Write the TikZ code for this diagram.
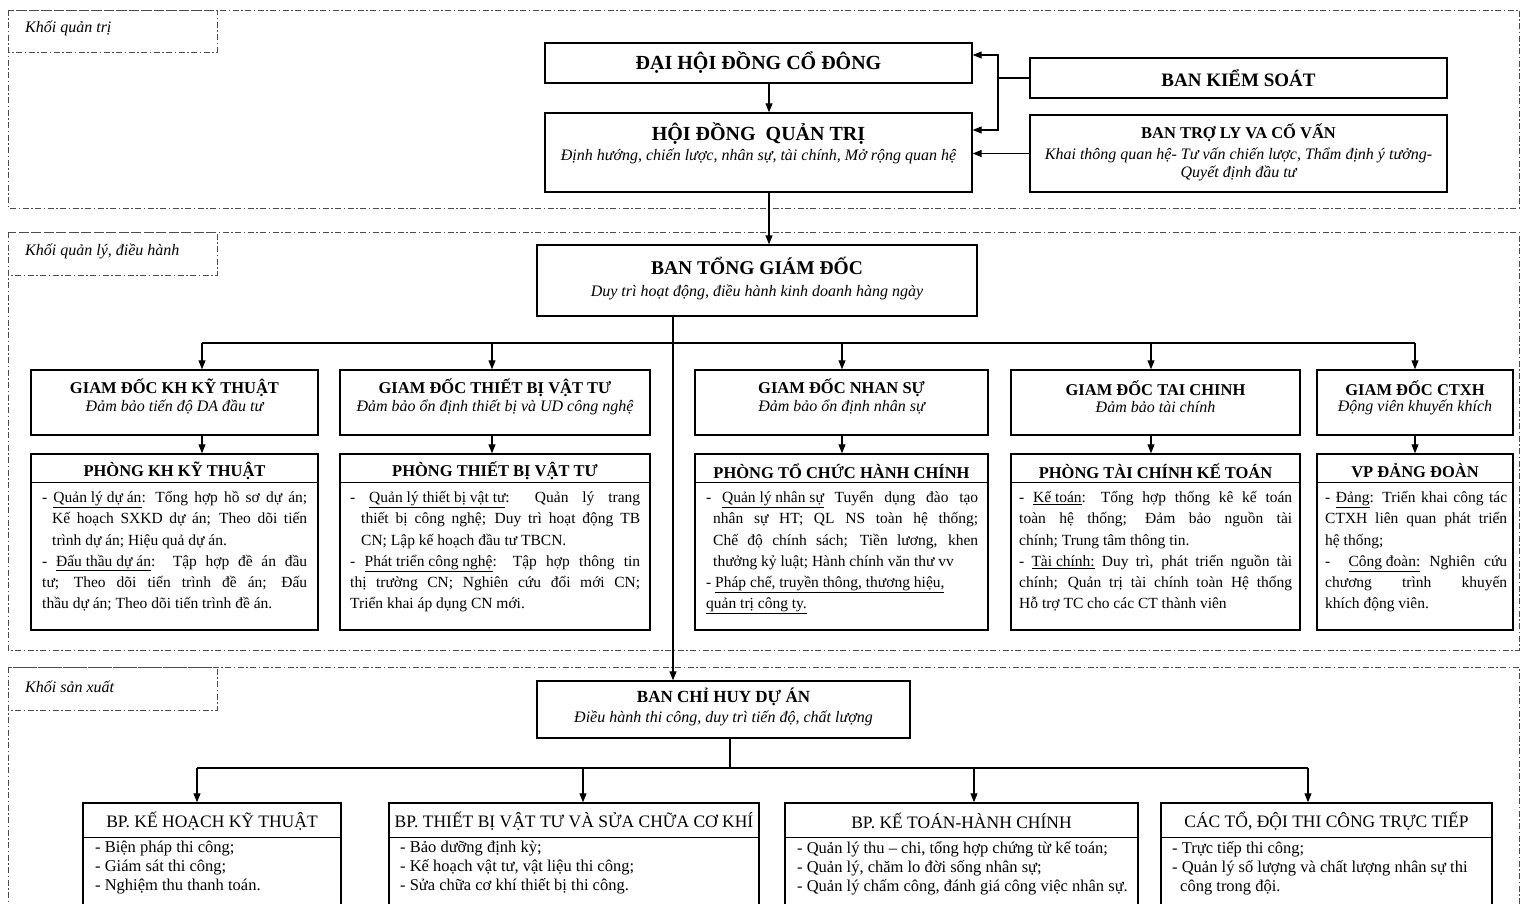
\documentclass[tikz,border=0pt]{standalone}
\usepackage{fontspec}
\setmainfont{Liberation Serif}
\usetikzlibrary{arrows.meta}

\tikzset{
  zone/.style={draw=black!70, line width=0.9pt, dash pattern=on 6pt off 2.5pt on 1.5pt off 2.5pt},
  zonetag/.style={anchor=west, inner sep=0pt, font=\fontsize{16}{18}\selectfont\itshape},
  box/.style={draw, line width=1.4pt, inner sep=0pt},
  head/.style={inner sep=0pt, font=\fontsize{16.5}{19}\selectfont\bfseries},
  bphead/.style={inner sep=0pt, font=\fontsize{17.5}{20}\selectfont},
  subhead/.style={inner sep=0pt, align=center, font=\fontsize{16}{18}\selectfont\itshape},
  duty/.style={anchor=north west, inner sep=0pt, align=justify, font=\fontsize{15.5}{21.3}\selectfont},
  task/.style={anchor=north west, inner sep=0pt, align=left, font=\fontsize{16.5}{19}\selectfont},
  link/.style={line width=1.1pt, -{Triangle[length=9pt,width=7pt]}},
  wire/.style={line width=1.1pt},
}

\begin{document}
\begin{tikzpicture}[x=1pt,y=-1pt]
\useasboundingbox (0,0) rectangle (1523,904);
\clip (0,0) rectangle (1523,904);

% Khoi quan tri
\draw[zone] (8,10) rectangle (1519,208);
\draw[zone] (8,10) rectangle (217,52);
\node[zonetag] (tag1) at (25,28) {Khối quản trị};

\node[box, minimum width=427pt, minimum height=40pt, font=\fontsize{20}{22}\selectfont\bfseries] (dhdcd) at (758.5,63) {ĐẠI HỘI ĐỒNG CỔ ĐÔNG};
\node[box, minimum width=427pt, minimum height=79pt] (hdqt) at (758.5,152.5) {};
\node[head, font=\fontsize{20}{22}\selectfont\bfseries] (hdqt-t) at (758.5,134) {HỘI ĐỒNG\ \ QUẢN TRỊ};
\node[subhead] (hdqt-s) at (758.5,156) {Định hướng, chiến lược, nhân sự, tài chính, Mở rộng quan hệ};
\node[box, minimum width=417pt, minimum height=40pt, font=\fontsize{19}{22}\selectfont\bfseries] (bks) at (1238.5,78) {BAN KIỂM SOÁT};
\node[box, minimum width=417pt, minimum height=77pt] (btl) at (1238.5,153.5) {};
\node[head] (btl-t) at (1238.5,133) {BAN TRỢ LY VA CỐ VẤN};
\node[subhead] (btl-s) at (1238.5,164) {Khai thông quan hệ- Tư vấn chiến lược, Thẩm định ý tưởng-\\Quyết định đầu tư};

\coordinate (ks) at (998,78);
\coordinate (ax) at (769,0);
\draw[wire] (bks.west) -- (ks);
\draw[link] (ks) |- ([yshift=8pt]dhdcd.east);
\draw[link] (ks) |- ([yshift=22.5pt]hdqt.east);
\draw[link] (btl.west) -- (btl.west -| hdqt.east);
\draw[link] (dhdcd.south -| ax) -- (hdqt.north -| ax);

% Khoi quan ly, dieu hanh
\draw[zone] (8,232) rectangle (1519,650);
\draw[zone] (8,232) rectangle (217,275);
\node[zonetag] (tag2) at (25,251) {Khối quản lý, điều hành};

\node[box, minimum width=440pt, minimum height=71pt] (btgd) at (757,280.5) {};
\node[head, font=\fontsize{19.5}{22}\selectfont\bfseries] (btgd-t) at (757,266) {BAN TỔNG GIÁM ĐỐC};
\node[subhead] (btgd-s) at (757,292) {Duy trì hoạt động, điều hành kinh doanh hàng ngày};
\draw[link] (hdqt.south -| ax) -- (btgd.north -| ax);

\coordinate (bx) at (673,343);
\coordinate (c1) at (202,343);
\coordinate (c2) at (492,343);
\coordinate (c3) at (842,343);
\coordinate (c4) at (1151,343);
\coordinate (c5) at (1415,343);
\draw[wire] (btgd.south -| bx) -- (bx);
\draw[wire] (c1) -- (c5);

% Giam doc
\node[box, minimum width=287pt, minimum height=65pt] (gd1) at (174.5,402.5) {};
\node[head] (gd1-t) at (174.5,388) {GIAM ĐỐC KH KỸ THUẬT};
\node[subhead] (gd1-s) at (174.5,407) {Đảm bảo tiến độ DA đầu tư};
\node[box, minimum width=310pt, minimum height=65pt] (gd2) at (495,402.5) {};
\node[head] (gd2-t) at (495,388) {GIAM ĐỐC THIẾT BỊ VẬT TƯ};
\node[subhead] (gd2-s) at (495,407) {Đảm bảo ổn định thiết bị và UD công nghệ};
\node[box, minimum width=293pt, minimum height=65pt] (gd3) at (841.5,402.5) {};
\node[head] (gd3-t) at (841.5,388) {GIAM ĐỐC NHAN SỰ};
\node[subhead] (gd3-s) at (841.5,407) {Đảm bảo ổn định nhân sự};
\node[box, minimum width=289pt, minimum height=65pt] (gd4) at (1155.5,402.5) {};
\node[head] (gd4-t) at (1155.5,388) {GIAM ĐỐC TAI CHINH};
\node[subhead] (gd4-s) at (1155.5,407) {Đảm bảo tài chính};
\node[box, minimum width=196pt, minimum height=65pt] (gd5) at (1415,402.5) {};
\node[head] (gd5-t) at (1415,388) {GIAM ĐỐC CTXH};
\node[subhead] (gd5-s) at (1415,407) {Động viên khuyến khích};

\draw[link] (c1) -- (gd1.north -| c1);
\draw[link] (c2) -- (gd2.north -| c2);
\draw[link] (c3) -- (gd3.north -| c3);
\draw[link] (c4) -- (gd4.north -| c4);
\draw[link] (c5) -- (gd5.north -| c5);

% Phong ban
\node[box, minimum width=287pt, minimum height=176pt] (p1) at (174.5,542) {};
\draw[wire] ([yshift=-29pt]p1.north west) -- ([yshift=-29pt]p1.north east);
\node[head] (p1-t) at (174.5,471) {PHÒNG KH KỸ THUẬT};
\node[duty, text width=265pt] (p1-d) at (42,491) {\hangindent=10pt\hangafter=1
- \underline{Quản lý dự án}: Tổng hợp hồ sơ dự án;\linebreak Kế hoạch SXKD dự án; Theo dõi tiến\linebreak trình dự án; Hiệu quả dự án.\par
\hangindent=10pt\hangafter=1
- \underline{Đấu thầu dự án}:\ \ Tập hợp đề án đầu\linebreak tư; Theo dõi tiến trình đề án; Đấu\linebreak thầu dự án; Theo dõi tiến trình đề án.};

\node[box, minimum width=310pt, minimum height=176pt] (p2) at (495,542) {};
\draw[wire] ([yshift=-29pt]p2.north west) -- ([yshift=-29pt]p2.north east);
\node[head] (p2-t) at (495,471) {PHÒNG THIẾT BỊ VẬT TƯ};
\node[duty, text width=290pt] (p2-d) at (350,491) {\hangindent=11pt\hangafter=1
- \underline{Quản lý thiết bị vật tư}: Quản lý trang\linebreak thiết bị công nghệ; Duy trì hoạt động TB\linebreak CN; Lập kế hoạch đầu tư TBCN.\par
\hangindent=11pt\hangafter=1
- \underline{Phát triển công nghệ}: Tập hợp thông tin\linebreak thị trường CN; Nghiên cứu đổi mới CN;\linebreak Triển khai áp dụng CN mới.};

\node[box, minimum width=293pt, minimum height=176pt] (p3) at (841.5,542) {};
\draw[wire] ([yshift=-29pt]p3.north west) -- ([yshift=-29pt]p3.north east);
\node[head] (p3-t) at (841.5,471) {PHÒNG TỔ CHỨC HÀNH CHÍNH};
\node[duty, text width=272pt] (p3-d) at (706,491) {\hangindent=7pt\hangafter=1
- \underline{Quản lý nhân sự} Tuyển dụng đào tạo\linebreak nhân sự HT; QL NS toàn hệ thống;\linebreak Chế độ chính sách; Tiền lương, khen\linebreak thưởng kỷ luật; Hành chính văn thư vv\par
\hangindent=7pt\hangafter=1
-~\underline{Pháp chế, truyền thông, thương hiệu,}\newline \underline{quản trị công ty.}};

\node[box, minimum width=289pt, minimum height=176pt] (p4) at (1155.5,542) {};
\draw[wire] ([yshift=-29pt]p4.north west) -- ([yshift=-29pt]p4.north east);
\node[head] (p4-t) at (1155.5,471) {PHÒNG TÀI CHÍNH KẾ TOÁN};
\node[duty, text width=273pt] (p4-d) at (1019,491) {- \underline{Kế toán}: Tổng hợp thống kê kế toán\linebreak toàn hệ thống; Đảm bảo nguồn tài\linebreak chính; Trung tâm thông tin.\par
- \underline{Tài chính:} Duy trì, phát triển nguồn tài\linebreak chính; Quản trị tài chính toàn Hệ thống\linebreak Hỗ trợ TC cho các CT thành viên};

\node[box, minimum width=196pt, minimum height=176pt] (p5) at (1415,542) {};
\draw[wire] ([yshift=-29pt]p5.north west) -- ([yshift=-29pt]p5.north east);
\node[head] (p5-t) at (1415,471) {VP ĐẢNG ĐOÀN};
\node[duty, text width=182pt] (p5-d) at (1325,491) {- \underline{Đảng}: Triển khai công tác\linebreak CTXH liên quan phát triển\linebreak hệ thống;\par
-\ \ \underline{Công đoàn:} Nghiên cứu\linebreak chương trình khuyến\linebreak khích động viên.};

\draw[link] (gd1.south -| c1) -- (p1.north -| c1);
\draw[link] (gd2.south -| c2) -- (p2.north -| c2);
\draw[link] (gd3.south -| c3) -- (p3.north -| c3);
\draw[link] (gd4.south -| c4) -- (p4.north -| c4);
\draw[link] (gd5.south -| c5) -- (p5.north -| c5);

% Khoi san xuat
\draw[zone] (8,667) rectangle (1519,930);
\draw[zone] (8,667) rectangle (217,710);
\node[zonetag] (tag3) at (25,687) {Khối sản xuất};

\node[box, minimum width=373pt, minimum height=57pt] (bchda) at (723.5,709.5) {};
\node[head, font=\fontsize{17}{19}\selectfont\bfseries] (bchda-t) at (723.5,697) {BAN CHỈ HUY DỰ ÁN};
\node[subhead] (bchda-s) at (723.5,718) {Điều hành thi công, duy trì tiến độ, chất lượng};
\draw[link] (bx) -- (bchda.north -| bx);

\coordinate (dx) at (730,768);
\coordinate (b1) at (197,768);
\coordinate (b2) at (583,768);
\coordinate (b3) at (974,768);
\coordinate (b4) at (1308,768);
\draw[wire] (bchda.south -| dx) -- (dx);
\draw[wire] (b1) -- (b4);

% Bo phan
\node[box, minimum width=258pt, minimum height=138pt] (bp1) at (212,872) {};
\draw[wire] ([yshift=-35pt]bp1.north west) -- ([yshift=-35pt]bp1.north east);
\node[bphead] (bp1-t) at (212,821) {BP. KẾ HOẠCH KỸ THUẬT};
\node[task] (bp1-d) at (95,841) {- Biện pháp thi công;\\- Giám sát thi công;\\- Nghiệm thu thanh toán.};

\node[box, minimum width=370pt, minimum height=138pt] (bp2) at (574,872) {};
\draw[wire] ([yshift=-35pt]bp2.north west) -- ([yshift=-35pt]bp2.north east);
\node[bphead] (bp2-t) at (574,821) {BP. THIẾT BỊ VẬT TƯ VÀ SỬA CHỮA CƠ KHÍ};
\node[task] (bp2-d) at (400,841) {- Bảo dưỡng định kỳ;\\- Kế hoạch vật tư, vật liệu thi công;\\- Sửa chữa cơ khí thiết bị thi công.};

\node[box, minimum width=353pt, minimum height=138pt] (bp3) at (961.5,872) {};
\draw[wire] ([yshift=-35pt]bp3.north west) -- ([yshift=-35pt]bp3.north east);
\node[bphead] (bp3-t) at (961.5,821) {BP. KẾ TOÁN-HÀNH CHÍNH};
\node[task] (bp3-d) at (797,841) {- Quản lý thu – chi, tổng hợp chứng từ kế toán;\\- Quản lý, chăm lo đời sống nhân sự;\\- Quản lý chấm công, đánh giá công việc nhân sự.};

\node[box, minimum width=331pt, minimum height=138pt] (bp4) at (1326.5,872) {};
\draw[wire] ([yshift=-35pt]bp4.north west) -- ([yshift=-35pt]bp4.north east);
\node[bphead] (bp4-t) at (1326.5,821) {CÁC TỔ, ĐỘI THI CÔNG TRỰC TIẾP};
\node[task] (bp4-d) at (1172,841) {- Trực tiếp thi công;\\- Quản lý số lượng và chất lượng nhân sự thi\\\hspace*{8pt}công trong đội.};

\draw[link] (b1) -- (bp1.north -| b1);
\draw[link] (b2) -- (bp2.north -| b2);
\draw[link] (b3) -- (bp3.north -| b3);
\draw[link] (b4) -- (bp4.north -| b4);
\end{tikzpicture}
\end{document}
